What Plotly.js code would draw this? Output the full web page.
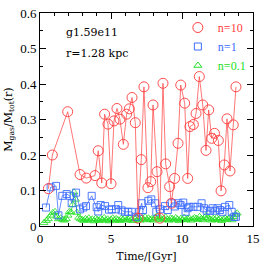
<!DOCTYPE html>
<html><head><meta charset="utf-8">
<script src="https://cdn.plot.ly/plotly-3.0.1.min.js"></script>
<style>html,body{margin:0;padding:0;background:#fff;}</style>
</head><body><div id="chart" style="width:266px;height:266px;"></div>
<script>
// n=10 series (red circles)
var timeN10 = [0.59,0.87,1.95,2.82,3.26,3.87,4.1,4.35,4.55,4.79,5.0,5.21,5.42,5.63,5.87,6.1,6.29,6.48,6.71,6.9,7.13,7.32,7.6,7.8,7.96,8.24,8.43,8.66,8.85,9.13,9.25,9.48,9.72,9.91,10.19,10.4,10.56,10.8,10.99,11.22,11.46,11.69,11.88,12.09,12.29,12.56,12.75,12.98,13.17,13.38,13.61,13.8];
var fracN10 = [0.105,0.200,0.322,0.145,0.135,0.142,0.212,0.121,0.315,0.287,0.119,0.296,0.331,0.301,0.230,0.315,0.330,0.362,0.291,0.022,0.187,0.392,0.108,0.125,0.341,0.153,0.022,0.402,0.175,0.111,0.064,0.134,0.233,0.397,0.346,0.134,0.280,0.286,0.317,0.421,0.341,0.213,0.327,0.247,0.261,0.241,0.099,0.172,0.302,0.155,0.285,0.392];

// n=1 series (blue squares)
var timeN1 = [0.42,0.75,1.13,1.3,1.57,1.88,2.1,2.23,2.54,2.82,3.05,3.24,3.64,3.99,4.1,4.27,4.58,4.86,5.05,5.35,5.51,5.75,5.99,6.22,6.46,6.76,7.0,7.16,7.25,7.63,7.84,8.1,8.19,8.45,8.8,9.0,9.27,9.5,9.74,9.9,10.09,10.25,10.4,10.51,10.8,11.1,11.38,11.55,11.74,11.97,12.15,12.35,12.5,12.68,12.85,13.03,13.33,13.5,13.68,13.8];
var fracN1 = [0.052,0.109,0.113,0.030,0.085,0.090,0.085,0.064,0.094,0.047,0.052,0.056,0.085,0.053,0.041,0.059,0.056,0.046,0.047,0.047,0.059,0.044,0.040,0.040,0.040,0.026,0.040,0.064,0.045,0.071,0.075,0.064,0.040,0.047,0.056,0.045,0.064,0.055,0.064,0.059,0.066,0.040,0.050,0.054,0.054,0.054,0.064,0.050,0.043,0.043,0.050,0.043,0.050,0.045,0.040,0.054,0.059,0.040,0.026,0.026];

// n=0.1 series (green triangles)
var timeN01 = [0.28,0.45,0.59,0.75,0.9,1.06,1.18,1.3,1.46,1.6,1.72,1.85,1.97,2.06,2.18,2.3,2.39,2.5,
  2.6,2.72,2.84,2.96,3.08,3.2,3.32,3.44,3.56,3.68,3.8,3.92,4.04,4.16,4.28,4.4,4.52,4.64,4.76,4.88,
  5.0,5.12,5.24,5.36,5.48,5.6,5.72,5.84,5.96,6.08,6.2,6.32,6.44,6.56,6.68,6.8,6.92,7.04,7.16,7.28,
  7.4,7.52,7.64,7.76,7.88,8.0,8.12,8.24,8.36,8.48,8.6,8.72,8.84,8.96,9.08,9.2,9.32,9.44,9.56,9.68,
  9.8,9.92,10.04,10.16,10.28,10.4,10.52,10.64,10.76,10.88,11.0,11.12,11.24,11.36,11.48,11.6,11.72,
  11.84,11.96,12.08,12.2,12.32,12.44,12.56,12.68,12.8,12.92,13.04,13.16,13.28,13.4,13.52,13.64,13.76,13.88];
var fracN01 = [0.009,0.015,0.020,0.030,0.037,0.040,0.027,0.020,0.022,0.018,0.016,0.020,0.030,0.040,0.039,0.060,0.095,0.075,
  0.038,0.024,0.020,0.018,0.015,0.020,0.017,0.022,0.016,0.019,0.014,0.021,0.018,0.015,0.020,0.017,0.023,0.016,0.019,0.014,
  0.018,0.022,0.016,0.020,0.017,0.015,0.021,0.018,0.023,0.016,0.019,0.022,0.017,0.015,0.020,0.024,0.018,0.016,0.021,0.019,
  0.025,0.017,0.022,0.018,0.020,0.016,0.024,0.028,0.019,0.022,0.017,0.021,0.025,0.018,0.016,0.022,0.020,0.017,0.023,0.019,
  0.015,0.021,0.018,0.024,0.017,0.020,0.022,0.016,0.019,0.023,0.021,0.018,0.026,0.020,0.017,0.024,0.030,
  0.022,0.019,0.016,0.021,0.018,0.023,0.017,0.020,0.015,0.019,0.022,0.018,0.021,0.024,0.017,0.026,0.032,0.036];

var seriesNames = ["n=10","n=1","n=0.1"];
var seriesColors = ["#ff3b3b","#3c6cff","#22e022"];
var xTickVals = [0,5,10,15];
var yTickVals = [0,0.1,0.2,0.3,0.4,0.5,0.6];
var yTickText = ["0","0.1","0.2","0.3","0.4","0.5","0.6"];
var galaxyLabel = "g1.59e11";
var radiusLabel = "r=1.28 kpc";

var FONT = "Liberation Serif, DejaVu Serif, serif";
var WIDE = "DejaVu Serif, Liberation Serif, serif";

var traces = [
  {x: timeN01, y: fracN01, mode: "lines+markers", showlegend: false,
   line: {color: seriesColors[2], width: 0.8},
   marker: {symbol: "triangle-up-open", size: 7, color: seriesColors[2], line: {width: 0.8}}},
  {x: timeN1, y: fracN1, mode: "lines+markers", showlegend: false,
   line: {color: seriesColors[1], width: 0.8},
   marker: {symbol: "square-open", size: 7, color: seriesColors[1], line: {width: 0.9}}},
  {x: timeN10, y: fracN10, mode: "lines+markers", showlegend: false,
   line: {color: seriesColors[0], width: 0.7},
   marker: {symbol: "circle-open", size: 10, color: seriesColors[0], line: {width: 0.9}}}
];
// legend-only entries (markers only, like the reference key)
var legendSymbols = ["circle-open","square-open","triangle-up-open"];
var legendSizes = [10,7,7];
for (var i = 0; i < 3; i++) {
  traces.push({x: [null], y: [null], mode: "markers", name: '<span style="color:' + seriesColors[i] + '">' + seriesNames[i] + '</span>',
    marker: {symbol: legendSymbols[i], size: legendSizes[i], color: seriesColors[i], line: {width: 1}}});
}

var layout = {
  width: 266, height: 266,
  margin: {l: 40, r: 13, t: 13, b: 40, pad: 0},
  paper_bgcolor: "#fff", plot_bgcolor: "#fff",
  font: {family: FONT, size: 12, color: "#000"},
  showlegend: true,
  legend: {x: 0.99, y: 1.0, xanchor: "right", yanchor: "top", bgcolor: "rgba(0,0,0,0)",
           font: {family: FONT, size: 12}, tracegroupgap: 0, itemwidth: 30},
  xaxis: {range: [0, 15], tickvals: xTickVals, ticks: "inside", ticklen: 6, tickcolor: "#000",
          showline: true, linecolor: "#000", linewidth: 1, mirror: "ticks", showgrid: false, zeroline: false,
          minor: {dtick: 1, ticks: "inside", ticklen: 3, tickcolor: "#000", showgrid: false},
          tickfont: {family: FONT, size: 13},
          title: {text: "Time/[Gyr]", font: {family: WIDE, size: 11}, standoff: 7}},
  yaxis: {range: [0, 0.6], tickvals: yTickVals, ticktext: yTickText, ticks: "inside", ticklen: 6, tickcolor: "#000",
          showline: true, linecolor: "#000", linewidth: 1, mirror: "ticks", showgrid: false, zeroline: false,
          minor: {dtick: 0.05, ticks: "inside", ticklen: 3, tickcolor: "#000", showgrid: false},
          tickfont: {family: FONT, size: 13},
          title: {text: "M<sub>gas</sub>/M<sub>tot</sub>(r)", font: {family: WIDE, size: 11}, standoff: 5}},
  annotations: [
    {text: galaxyLabel, xref: "paper", yref: "paper", x: 0.115, y: 0.91, xanchor: "left", yanchor: "middle",
     showarrow: false, font: {family: WIDE, size: 11}},
    {text: radiusLabel, xref: "paper", yref: "paper", x: 0.115, y: 0.81, xanchor: "left", yanchor: "middle",
     showarrow: false, font: {family: WIDE, size: 11}}
  ]
};

Plotly.newPlot("chart", traces, layout, {staticPlot: true, displayModeBar: false});
</script>
</body></html>
